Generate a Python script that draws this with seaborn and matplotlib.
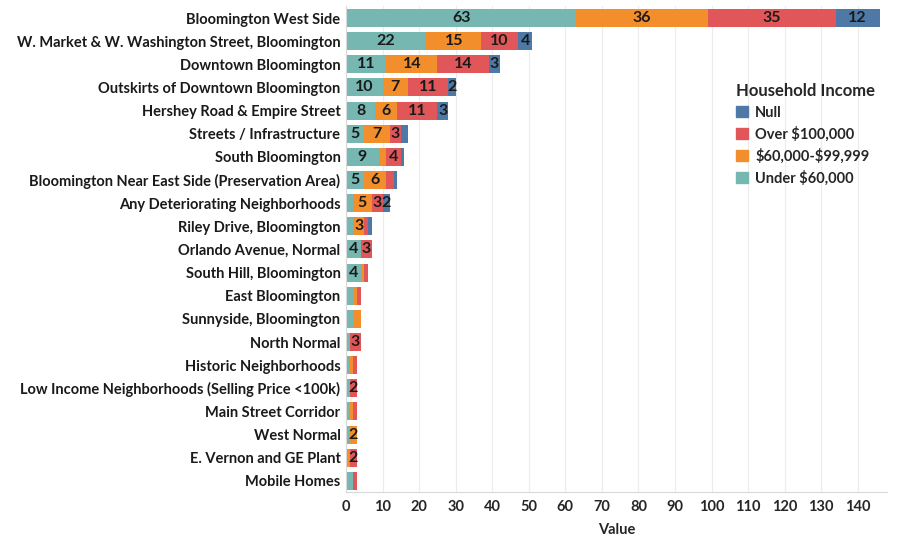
import matplotlib
matplotlib.use('Agg')
import matplotlib.pyplot as plt
from matplotlib.patches import Patch
import seaborn as sns
import pandas as pd
import numpy as np

# Dados
bairros = [
    'Bloomington West Side',
    'W. Market & W. Washington Street, Bloomington',
    'Downtown Bloomington',
    'Outskirts of Downtown Bloomington',
    'Hershey Road & Empire Street',
    'Streets / Infrastructure',
    'South Bloomington',
    'Bloomington Near East Side (Preservation Area)',
    'Any Deteriorating Neighborhoods',
    'Riley Drive, Bloomington',
    'Orlando Avenue, Normal',
    'South Hill, Bloomington',
    'East Bloomington',
    'Sunnyside, Bloomington',
    'North Normal',
    'Historic Neighborhoods',
    'Low Income Neighborhoods (Selling Price <100k)',
    'Main Street Corridor',
    'West Normal',
    'E. Vernon and GE Plant',
    'Mobile Homes',
]
under_60k = [63, 22, 11, 10, 8, 5, 9, 5, 2, 2, 4, 4, 2, 2, 1, 1, 1, 1, 1, 0, 2]
de_60_100k = [36, 15, 14, 7, 6, 7, 2, 6, 5, 3, 0, 1, 1, 2, 0, 1, 0, 1, 2, 1, 0]
over_100k = [35, 10, 14, 11, 11, 3, 4, 2, 3, 1, 3, 1, 1, 0, 3, 1, 2, 1, 0, 2, 1]
null = [12, 4, 3, 2, 3, 2, 1, 1, 2, 1, 0, 0, 0, 0, 0, 0, 0, 0, 0, 0, 0]

series = ['Under $60,000', '$60,000-$99,999', 'Over $100,000', 'Null']
cores = {'Under $60,000': '#76B7B2', '$60,000-$99,999': '#F28E2B',
         'Over $100,000': '#E15759', 'Null': '#4E79A7'}
# segmentos de valor 2 que o Tableau não rotulou
sem_rotulo = [('Streets / Infrastructure', 'Null'),
              ('Sunnyside, Bloomington', '$60,000-$99,999')]

df = pd.DataFrame({'bairro': bairros, 'Under $60,000': under_60k,
                   '$60,000-$99,999': de_60_100k, 'Over $100,000': over_100k,
                   'Null': null})

sns.set_style('white')
plt.rcParams['font.family'] = ['Lato', 'DejaVu Sans']
plt.rcParams['text.parse_math'] = False

fig = plt.figure(figsize=(9.05, 5.36), dpi=100)
ax = fig.add_axes([346 / 905, 1 - 492 / 536, (887 - 346) / 905, (492 - 6) / 536])

# Barras empilhadas: desenha somas acumuladas da maior para a menor
acum = df[series].cumsum(axis=1)
for s in reversed(series):
    sns.barplot(x=acum[s], y=df['bairro'], order=bairros, color=cores[s],
                width=0.78, linewidth=0, saturation=1, ax=ax, orient='h')

# Rótulos dos segmentos
for i, b in enumerate(bairros):
    inicio = 0
    nao_zero = [s for s in series if df.loc[i, s] > 0]
    for s in series:
        v = df.loc[i, s]
        if v > 0:
            mostrar = v >= 3 or (v == 2 and s == nao_zero[-1])
            if (b, s) in sem_rotulo:
                mostrar = False
            if mostrar:
                ax.text(inicio + v / 2, i, str(v), ha='center', va='center',
                        fontsize=11.5, fontweight='bold', color='#1a1a1a')
        inicio += v

ax.set_xlim(0, 148)
ax.set_ylim(20.48, -0.52)
ax.set_xticks(range(0, 150, 10))
ax.tick_params(axis='x', labelsize=10.5, length=0, pad=6)
for lbl in ax.get_xticklabels():
    lbl.set_fontweight('bold')
ax.tick_params(axis='y', labelsize=10.5, length=0, pad=4)
for lbl in ax.get_yticklabels():
    lbl.set_fontweight('bold')
    lbl.set_color('#1a1a1a')
ax.set_xlabel('Value', fontsize=10.5, fontweight='bold', labelpad=6)
ax.set_ylabel('')
ax.grid(axis='x', color='#ececec', linewidth=0.8)
ax.set_axisbelow(True)
for lado in ['top', 'right']:
    ax.spines[lado].set_visible(False)
ax.spines['left'].set_color('#d9d9d9')
ax.spines['bottom'].set_color('#d9d9d9')

# Legenda
handles = [Patch(color=cores[s], label=s) for s in ['Null', 'Over $100,000',
                                                   '$60,000-$99,999', 'Under $60,000']]
leg = fig.legend(handles=handles, title='Household Income', loc='upper left',
                 bbox_to_anchor=(723 / 905, 1 - 70 / 536), frameon=False,
                 fontsize=10.5, title_fontsize=12, handlelength=0.8,
                 handleheight=0.8, handletextpad=0.5, labelspacing=0.46,
                 alignment='left')
leg.get_title().set_fontweight('bold')
for t in leg.get_texts():
    t.set_fontweight('bold')

fig.savefig('out.png', dpi=100)
